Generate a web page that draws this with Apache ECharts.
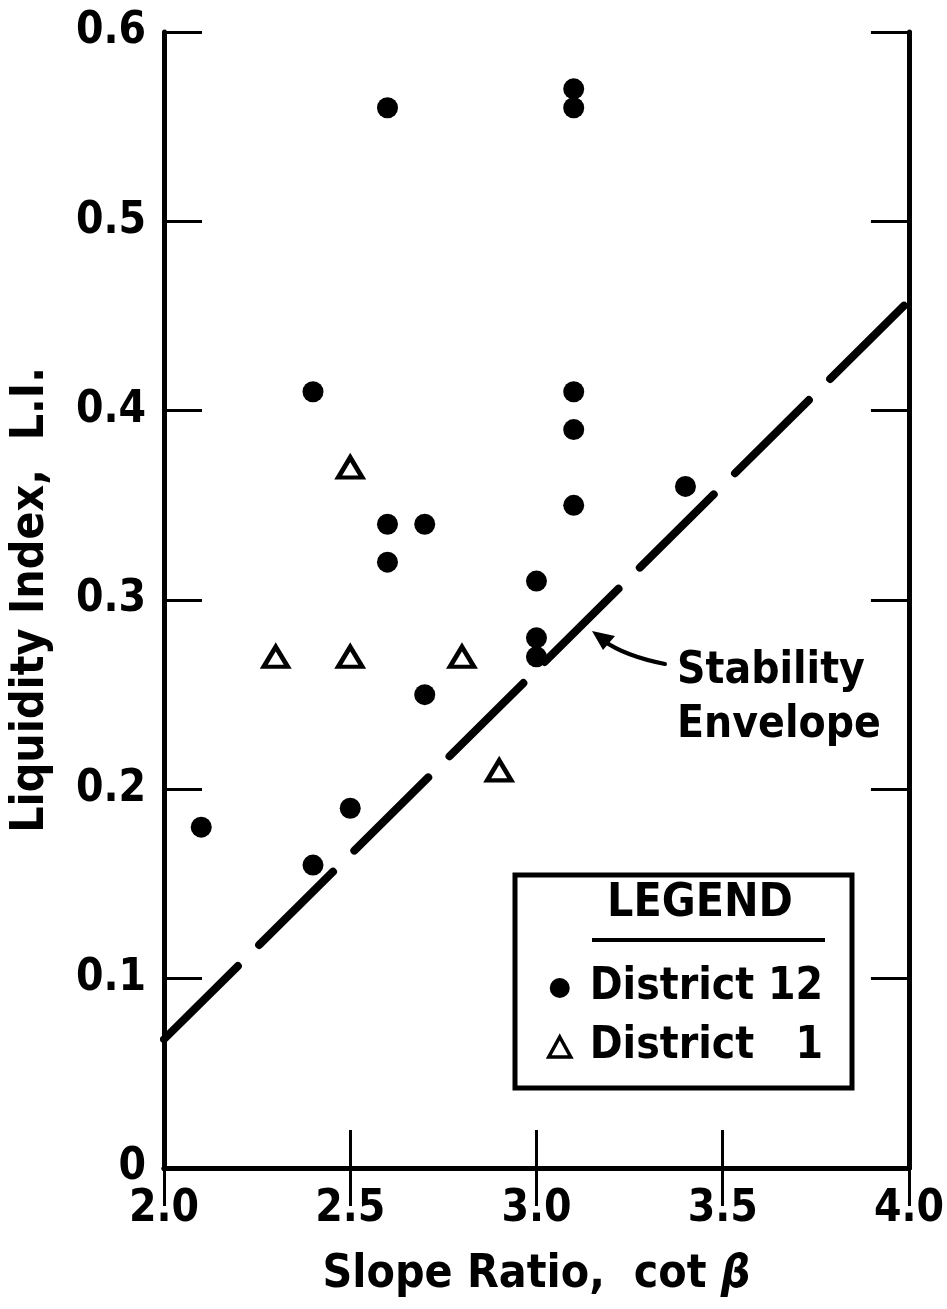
<!DOCTYPE html>
<html>
<head>
<meta charset="utf-8">
<script src="https://cdn.jsdelivr.net/npm/echarts@6/dist/echarts.min.js"></script>
<style>
html,body{margin:0;padding:0;background:#fff;}
#chart{width:947px;height:1309px;}
</style>
</head>
<body>
<div id="chart"></div>
<script>
// ---- data ----
const district12X = [2.1, 2.4, 2.4, 2.5, 2.6, 2.6, 2.6, 2.7, 2.7, 3.0, 3.0, 3.0, 3.1, 3.1, 3.1, 3.1, 3.1, 3.4];
const district12Y = [0.18, 0.16, 0.41, 0.19, 0.56, 0.34, 0.32, 0.34, 0.25, 0.31, 0.28, 0.27, 0.57, 0.56, 0.41, 0.39, 0.35, 0.36];
const district1X = [2.3, 2.5, 2.5, 2.8, 2.9];
const district1Y = [0.27, 0.37, 0.27, 0.27, 0.21];
const envelopeX = [2.0, 4.0];
const envelopeY = [0.068, 0.458];
const xTicks = [2.0, 2.5, 3.0, 3.5, 4.0];
const yTicks = [0, 0.1, 0.2, 0.3, 0.4, 0.5, 0.6];
const seriesNames = ['District 12', 'District 1'];
const xTitle = 'Slope Ratio,  cot ';
const yTitle = 'Liquidity Index,  L.I.';
const annotation = ['Stability', 'Envelope'];

const FONT = "'DejaVu Sans Condensed', 'DejaVu Sans', sans-serif";
const zip = (a, b) => a.map((v, i) => [v, b[i]]);

const chart = echarts.init(document.getElementById('chart'), null, {renderer: 'canvas'});

const axisCommon = {
  type: 'value',
  axisLine: {show: true, lineStyle: {color: '#000', width: 5}},
  axisTick: {show: true, inside: true, length: 38, lineStyle: {color: '#000', width: 3}},
  splitLine: {show: false}
};

const option = {
  backgroundColor: '#fff',
  animation: false,
  grid: {left: 163, right: 34, top: 32, bottom: 141, containLabel: false},
  legend: {
    show: true,
    orient: 'vertical',
    left: 542,
    top: 961,
    itemWidth: 22,
    itemHeight: 20,
    itemGap: 15,
    selectedMode: false,
    formatter: n => n === 'District 1' ? 'District   1' : n,
    textStyle: {fontFamily: FONT, fontWeight: 'bold', fontSize: 44, color: '#000', padding: [0, 0, 0, 14]},
    data: [
      {name: seriesNames[0], icon: 'circle', itemStyle: {color: '#000', borderWidth: 0, opacity: 1}},
      {name: seriesNames[1], icon: 'triangle', itemStyle: {color: '#fff', borderColor: '#000', borderWidth: 3.5, opacity: 1}}
    ]
  },
  xAxis: [
    Object.assign({}, axisCommon, {
      position: 'bottom', min: xTicks[0], max: xTicks[xTicks.length - 1], interval: 0.5,
      axisLabel: {show: true, margin: 20, color: '#000', fontFamily: FONT, fontWeight: 'bold', fontSize: 44,
        formatter: v => v.toFixed(1)},
      name: xTitle + '{b|β}', nameLocation: 'middle', nameGap: 84,
      nameTextStyle: {fontFamily: FONT, fontWeight: 'bold', fontSize: 46, color: '#000',
        rich: {b: {fontFamily: FONT, fontWeight: 'bold', fontStyle: 'italic', fontSize: 46, color: '#000'}}}
    }),
    Object.assign({}, axisCommon, {
      position: 'top', min: xTicks[0], max: xTicks[xTicks.length - 1], interval: 0.5,
      axisLabel: {show: false}
    })
  ],
  yAxis: [
    Object.assign({}, axisCommon, {
      position: 'left', min: yTicks[0], max: yTicks[yTicks.length - 1], interval: 0.1,
      axisLabel: {show: true, margin: 18, color: '#000', fontFamily: FONT, fontWeight: 'bold', fontSize: 44,
        formatter: v => v === 0 ? '0' : v.toFixed(1)},
      name: yTitle, nameLocation: 'middle', nameGap: 110,
      nameTextStyle: {fontFamily: FONT, fontWeight: 'bold', fontSize: 46, color: '#000'}
    }),
    Object.assign({}, axisCommon, {
      position: 'right', min: yTicks[0], max: yTicks[yTicks.length - 1], interval: 0.1,
      axisLabel: {show: false}
    })
  ],
  series: [
    {
      name: 'Stability Envelope',
      type: 'line',
      xAxisIndex: 0, yAxisIndex: 0,
      data: zip(envelopeX, envelopeY),
      showSymbol: false,
      symbol: 'none',
      lineStyle: {color: '#000', width: 8, type: [104, 30], cap: 'round', opacity: 1},
      z: 2
    },
    {
      name: seriesNames[0],
      type: 'scatter',
      xAxisIndex: 0, yAxisIndex: 0,
      data: zip(district12X, district12Y),
      symbol: 'circle',
      symbolSize: 21,
      itemStyle: {color: '#000', opacity: 1},
      z: 3
    },
    {
      name: seriesNames[1],
      type: 'scatter',
      xAxisIndex: 0, yAxisIndex: 0,
      data: zip(district1X, district1Y),
      symbol: 'triangle',
      symbolSize: [24, 20],
      itemStyle: {color: '#fff', borderColor: '#000', borderWidth: 4.5, opacity: 1},
      z: 3
    }
  ],
  graphic: [
    // legend box
    {type: 'rect', shape: {x: 515, y: 875, width: 337, height: 213},
      style: {fill: 'none', stroke: '#000', lineWidth: 5}, z: 10},
    {type: 'text', x: 700, y: 904,
      style: {text: 'LEGEND', fontFamily: FONT, fontWeight: 'bold', fontSize: 46, fill: '#000',
        textAlign: 'center', textVerticalAlign: 'middle'}, z: 10},
    {type: 'line', shape: {x1: 592, y1: 940, x2: 825, y2: 940},
      style: {stroke: '#000', lineWidth: 4}, z: 10},
    // annotation
    {type: 'text', x: 677, y: 672,
      style: {text: annotation[0], fontFamily: FONT, fontWeight: 'bold', fontSize: 44, fill: '#000',
        textAlign: 'left', textVerticalAlign: 'middle'}, z: 10},
    {type: 'text', x: 677, y: 726,
      style: {text: annotation[1], fontFamily: FONT, fontWeight: 'bold', fontSize: 44, fill: '#000',
        textAlign: 'left', textVerticalAlign: 'middle'}, z: 10},
    {type: 'bezierCurve', shape: {x1: 604, y1: 641, cpx1: 625, cpy1: 656, x2: 665, y2: 664},
      style: {stroke: '#000', lineWidth: 4, fill: 'none', lineCap: 'round'}, z: 10},
    {type: 'polygon', shape: {points: [[592, 631], [615, 636], [603, 650]]},
      style: {fill: '#000'}, z: 10}
  ]
};

chart.setOption(option);
</script>
</body>
</html>
